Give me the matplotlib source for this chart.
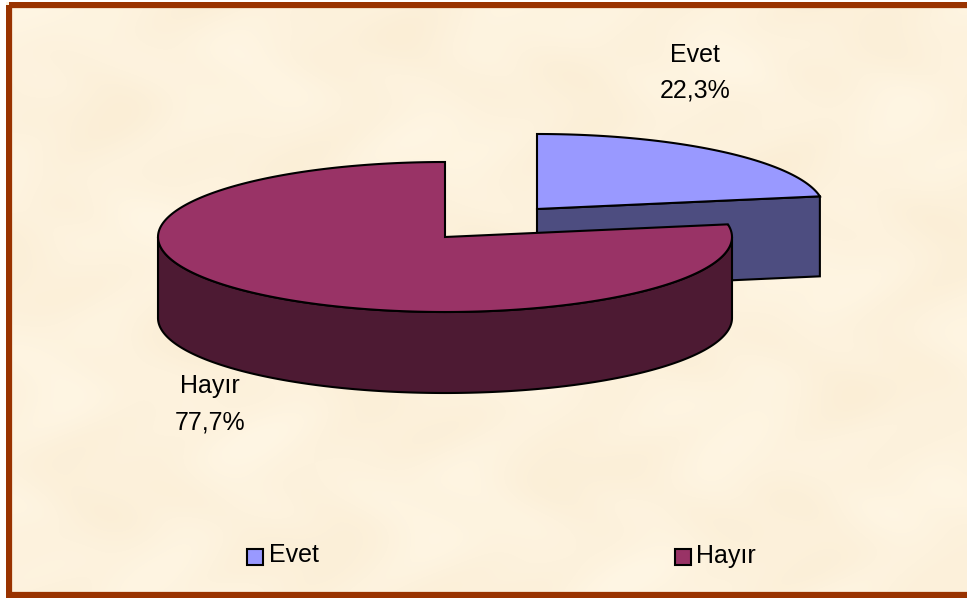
import numpy as np
import matplotlib
matplotlib.use("Agg")
import matplotlib.pyplot as plt
from matplotlib.patches import Polygon, Rectangle

categories = ["Evet", "Hayır"]
values = [22.3, 77.7]
labels = ["Evet\n22,3%", "Hayır\n77,7%"]
top_colors = ["#9999FF", "#993366"]
side_colors = ["#4D4D80", "#4D1A33"]

plt.rcParams["font.family"] = ["Liberation Sans", "DejaVu Sans"]
W, H = 967, 599
fig = plt.figure(figsize=(W / 100, H / 100), dpi=100)
ax = fig.add_axes([0, 0, 1, 1])
ax.set_xlim(0, W)
ax.set_ylim(H, 0)
ax.axis("off")

# parchment background: smooth deterministic mottling
yy, xx = np.mgrid[0:H, 0:W]
m = (np.sin(xx / 37 + yy / 61) + np.sin(xx / 83 - yy / 29 + 1.3)
     + np.sin(xx / 19 + np.sin(yy / 23) * 2) * 0.6 + np.sin(yy / 13 + xx / 47) * 0.4) / 3
base = np.array([253, 242, 221]) / 255
amp = np.array([2, 4, 7]) / 255
bg = np.clip(base[None, None, :] + m[..., None] * amp, 0, 1)
ax.imshow(bg, extent=(0, W, H, 0), aspect="auto", zorder=0)
ax.set_xlim(0, W)
ax.set_ylim(H, 0)

RX, RY, DEPTH = 287, 75, 80
EC = "black"
LW = 1.5


def arc(cx, cy, a0, a1, n=240):
    t = np.radians(np.linspace(a0, a1, n))
    return np.column_stack([cx + RX * np.cos(t), cy - RY * np.sin(t)])


sweep = [v / sum(values) * 360 for v in values]
evet_end = 90 - sweep[0]          # clockwise from 12 o'clock
hayir_end = 90 + sweep[1]         # counter-clockwise from 12 o'clock

# --- Evet slice (exploded to the upper right)
ecx, ecy = 537, 209
earc = arc(ecx, ecy, 90, evet_end)
tip = earc[-1]
ax.add_patch(Polygon([(ecx, ecy), tip, tip + (0, DEPTH), (ecx, ecy + DEPTH)],
                     closed=True, fc=side_colors[0], ec=EC, lw=LW, zorder=2))
ax.add_patch(Polygon(np.vstack([[(ecx, ecy)], earc]), closed=True,
                     fc=top_colors[0], ec=EC, lw=LW, zorder=3))

# --- Hayır slice
hcx, hcy = 445, 237
rim_top = arc(hcx, hcy, 180, 360)
rim_bot = arc(hcx, hcy + DEPTH + 1, 180, 360)
ax.add_patch(Polygon(np.vstack([rim_top, rim_bot[::-1]]), closed=True,
                     fc=side_colors[1], ec=EC, lw=LW, zorder=4))
harc = arc(hcx, hcy, 90, hayir_end, 480)
ax.add_patch(Polygon(np.vstack([[(hcx, hcy)], harc]), closed=True,
                     fc=top_colors[1], ec=EC, lw=LW, zorder=5))

# --- data labels
FS = 18
ax.text(695, 73, labels[0], ha="center", va="center", fontsize=FS, linespacing=1.6, zorder=6)
ax.text(210, 404, labels[1], ha="center", va="center", fontsize=FS, linespacing=1.65, zorder=6)

# --- legend
for x, tx, name, col in zip((247, 675), (269, 696), categories, top_colors):
    ax.add_patch(Rectangle((x, 549), 16, 16, fc=col, ec=EC, lw=1.5, zorder=6))
    ax.text(tx, 555.5, name, ha="left", va="center", fontsize=FS, zorder=6)

# --- outer frame
ax.add_patch(Rectangle((9, 5), W + 20, 589.5, fc="none", ec="#993300", lw=4.5, zorder=7))
for r in ((0, 0, W, 2), (0, 0, 6, H), (0, 597.5, W, 2)):
    ax.add_patch(Rectangle(r[:2], r[2], r[3], fc="white", ec="none", zorder=8))

fig.savefig("out.png", dpi=100)
